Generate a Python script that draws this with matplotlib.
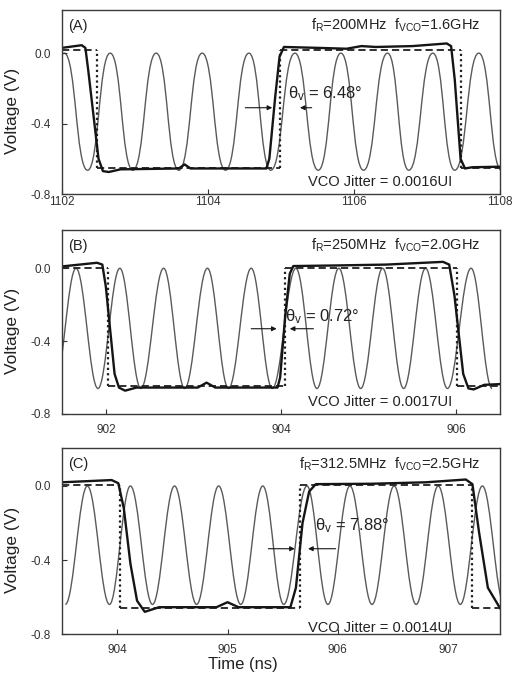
import numpy as np
import matplotlib
matplotlib.use("Agg")
import matplotlib.pyplot as plt
from matplotlib.path import Path
from matplotlib.patches import PathPatch

plt.rcParams['font.family'] = ['Liberation Sans', 'DejaVu Sans']
plt.rcParams['mathtext.default'] = 'regular'

# ---- text ----
panel_tags = ['(A)', '(B)', '(C)']
freq_labels = [r'f$_R$=200MHz  f$_{VCO}$=1.6GHz',
               r'f$_R$=250MHz  f$_{VCO}$=2.0GHz',
               r'f$_R$=312.5MHz  f$_{VCO}$=2.5GHz']
jitter_labels = ['VCO Jitter = 0.0016UI', 'VCO Jitter = 0.0017UI', 'VCO Jitter = 0.0014UI']
theta_labels = [r'θ$_v$ = 6.48°', r'θ$_v$ = 0.72°', r'θ$_v$ = 7.88°']

# ---- axes ranges / ticks ----
xlims = [(1102, 1108), (901.5, 906.5), (903.5, 907.47)]
ylims = [(-0.8, 0.245), (-0.8, 0.21), (-0.8, 0.205)]
xticks_A = [1102, 1104, 1106, 1108]
xticks_B = [902, 904, 906]
xticks_C = [904, 905, 906, 907]
yticks = [-0.8, -0.4, 0.0]

# ---- VCO output (thin grey): peak / trough times and levels ----
vco_peaks_A = [1102.03, 1102.66, 1103.29, 1103.92, 1104.56, 1105.19, 1105.82, 1106.46, 1107.08, 1107.71]
vco_troughs_A = [1101.72, 1102.35, 1102.97, 1103.60, 1104.24, 1104.86, 1105.51, 1106.13, 1106.75, 1107.38, 1108.02]
vco_hi_A, vco_lo_A = 0.0, -0.665

vco_peaks_B = [901.66, 902.16, 902.66, 903.16, 903.66, 904.17, 904.66, 905.16, 905.65, 906.17]
vco_troughs_B = [901.41, 901.91, 902.40, 902.90, 903.40, 903.90, 904.41, 904.91, 905.40, 905.90, 906.41]
vco_hi_B, vco_lo_B = 0.0, -0.66

vco_peaks_C = [903.73, 904.12, 904.52, 904.92, 905.32, 905.72, 906.11, 906.51, 906.91, 907.31]
vco_troughs_C = [903.53, 903.93, 904.32, 904.72, 905.12, 905.51, 905.91, 906.31, 906.71, 907.11, 907.51]
vco_hi_C, vco_lo_C = 0.0, -0.64

# ---- reference clock (dashed levels, dotted edges) ----
ref_edges_A = [1102.475, 1104.99, 1107.46]
ref_edges_B = [902.03, 904.05, 906.01]
ref_edges_C = [904.03, 905.66, 907.22]
ref_hi = [0.02, 0.0, 0.005]
ref_lo = [-0.65, -0.645, -0.66]

# ---- recovered clock (thick black) ----
clk_t_A = [1102.0, 1102.27, 1102.32, 1102.36, 1102.50, 1102.56, 1102.64, 1102.8, 1103.6, 1103.68, 1103.76,
           1104.80, 1104.84, 1104.92, 1104.98, 1105.04, 1105.5, 1105.9, 1106.1, 1106.3, 1106.8, 1107.27,
           1107.33, 1107.38, 1107.46, 1107.52, 1107.62, 1108.0]
clk_v_A = [0.03, 0.045, 0.03, -0.1, -0.6, -0.67, -0.675, -0.66, -0.655, -0.632, -0.655,
           -0.655, -0.6, -0.25, -0.02, 0.035, 0.03, 0.025, 0.04, 0.035, 0.04, 0.055,
           0.04, -0.15, -0.6, -0.655, -0.648, -0.645]

clk_t_B = [901.5, 901.9, 901.96, 902.0, 902.1, 902.15, 902.22, 902.35, 903.05, 903.15, 903.25,
           903.96, 903.99, 904.05, 904.1, 904.14, 904.6, 905.2, 905.85, 905.92, 905.98, 906.08,
           906.14, 906.2, 906.32, 906.5]
clk_v_B = [0.01, 0.03, 0.02, -0.1, -0.58, -0.655, -0.672, -0.655, -0.655, -0.628, -0.655,
           -0.655, -0.6, -0.25, -0.03, 0.012, 0.015, 0.02, 0.035, 0.02, -0.15, -0.58,
           -0.66, -0.665, -0.64, -0.636]

clk_t_C = [903.5, 903.95, 904.01, 904.06, 904.12, 904.18, 904.25, 904.38, 904.9, 905.0, 905.1,
           905.57, 905.62, 905.68, 905.74, 905.8, 906.3, 906.8, 907.16, 907.22, 907.28, 907.36,
           907.47]
clk_v_C = [0.02, 0.032, 0.015, -0.12, -0.42, -0.62, -0.68, -0.655, -0.655, -0.628, -0.655,
           -0.655, -0.55, -0.2, -0.03, 0.01, 0.012, 0.02, 0.035, 0.01, -0.25, -0.55,
           -0.66]

# ---- phase-error arrows: (tail, head) times and level ----
arrows_A = [(1104.51, 1104.88), (1105.42, 1105.26)]
arrows_B = [(903.66, 903.95), (904.37, 904.10)]
arrows_C = [(905.37, 905.61), (905.98, 905.73)]
arrow_level = [-0.31, -0.332, -0.339]

panels = [
    dict(xticks=xticks_A, peaks=vco_peaks_A, troughs=vco_troughs_A, hi=vco_hi_A, lo=vco_lo_A,
         edges=ref_edges_A, ct=clk_t_A, cv=clk_v_A, arrows=arrows_A, k=0.5,
         theta_xy=(0.516, 0.545), xpad=1.5),
    dict(xticks=xticks_B, peaks=vco_peaks_B, troughs=vco_troughs_B, hi=vco_hi_B, lo=vco_lo_B,
         edges=ref_edges_B, ct=clk_t_B, cv=clk_v_B, arrows=arrows_B, k=0.38,
         theta_xy=(0.509, 0.53), xpad=7),
    dict(xticks=xticks_C, peaks=vco_peaks_C, troughs=vco_troughs_C, hi=vco_hi_C, lo=vco_lo_C,
         edges=ref_edges_C, ct=clk_t_C, cv=clk_v_C, arrows=arrows_C, k=0.38,
         theta_xy=(0.578, 0.585), xpad=7),
]

fig = plt.figure(figsize=(5.16, 6.8), dpi=100)
boxes = [[0.1202, 0.7147, 0.8488, 0.2706],
         [0.1202, 0.3912, 0.8488, 0.2706],
         [0.1202, 0.0676, 0.8488, 0.2735]]

for i, p in enumerate(panels):
    ax = fig.add_axes(boxes[i])
    ax.set_xlim(*xlims[i])
    ax.set_ylim(*ylims[i])

    # VCO waveform: smooth curve through the extrema (horizontal tangents)
    ext = sorted([(t, p['hi']) for t in p['peaks']] + [(t, p['lo']) for t in p['troughs']])
    verts = [ext[0]]
    codes = [Path.MOVETO]
    for (t0, v0), (t1, v1) in zip(ext[:-1], ext[1:]):
        d = t1 - t0
        verts += [(t0 + p['k'] * d, v0), (t1 - p['k'] * d, v1), (t1, v1)]
        codes += [Path.CURVE4] * 3
    ax.add_patch(PathPatch(Path(verts, codes), fill=False, edgecolor='#5a5a5a', lw=1.0))

    # reference clock: dashed levels + dotted edges
    x0, x1 = xlims[i]
    bounds = [x0] + p['edges'] + [x1]
    for j in range(len(bounds) - 1):
        lvl = ref_hi[i] if j % 2 == 0 else ref_lo[i]
        ax.hlines(lvl, bounds[j], bounds[j + 1], colors='#202020', lw=1.3,
                  linestyles=(0, (4, 2.2)))
    ax.vlines(p['edges'], ref_lo[i], ref_hi[i], colors='#202020', lw=1.6,
              linestyles=(0, (1, 1.4)))

    # recovered clock
    ax.plot(p['ct'], p['cv'], color='#151515', lw=1.7, solid_joinstyle='round')

    # arrows
    for tail, head in p['arrows']:
        ax.annotate('', xy=(head, arrow_level[i]), xytext=(tail, arrow_level[i]),
                    arrowprops=dict(arrowstyle='-|>', color='#151515', lw=0.8,
                                    mutation_scale=7, shrinkA=0, shrinkB=0))

    ax.text(0.013, 0.913, panel_tags[i], transform=ax.transAxes, fontsize=10.5,
            ha='left', va='center', color='#222222')
    ax.text(0.955, 0.915, freq_labels[i], transform=ax.transAxes, fontsize=10.5,
            ha='right', va='center', color='#222222')
    ax.text(0.562, 0.065 if i < 2 else 0.035, jitter_labels[i], transform=ax.transAxes,
            fontsize=10.5, ha='left', va='center', color='#222222')
    ax.text(p['theta_xy'][0], p['theta_xy'][1], theta_labels[i], transform=ax.transAxes,
            fontsize=12, ha='left', va='center', color='#222222')

    ax.set_xticks(p['xticks'])
    ax.set_yticks(yticks)
    ax.set_yticklabels(['-0.8', '-0.4', '0.0'])
    ax.tick_params(direction='in', length=3.5, width=0.8, labelsize=8.5,
                   colors='#333333', labelcolor='#333333')
    ax.tick_params(axis='x', pad=p['xpad'])
    ax.tick_params(axis='y', pad=8)
    for s in ax.spines.values():
        s.set_color('#3a3a3a')
        s.set_linewidth(1.0)

    ax.set_ylabel('Voltage (V)', fontsize=12.5, color='#222222')
    ax.yaxis.set_label_coords(-0.096, 0.45)
    if i == 2:
        ax.set_xlabel('Time (ns)', fontsize=12, color='#222222')
        ax.xaxis.set_label_coords(0.414, -0.125)

fig.savefig('out.png', dpi=100)
